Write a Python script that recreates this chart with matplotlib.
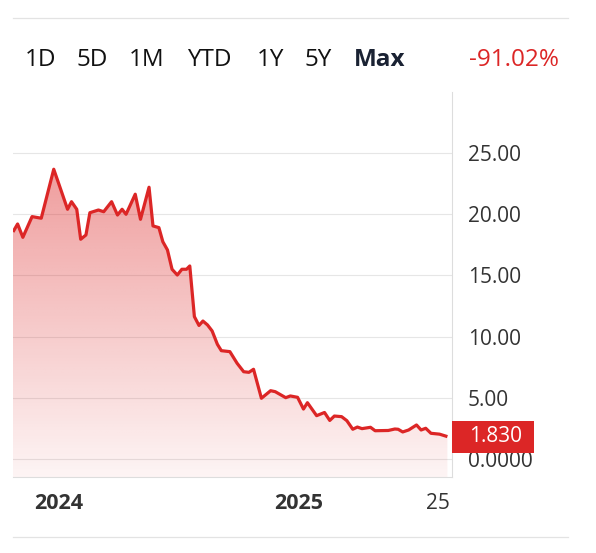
import numpy as np
import pandas as pd
import matplotlib
matplotlib.use("Agg")
import matplotlib.pyplot as plt
import matplotlib.dates as mdates
from matplotlib.patches import Rectangle
from matplotlib.transforms import blended_transform_factory
from matplotlib.lines import Line2D

plt.rcParams['font.family'] = ['Open Sans', 'DejaVu Sans']

# ---- data ----
dates = [
    "2023-10-24", "2023-10-31", "2023-11-08", "2023-11-22", "2023-12-06", "2023-12-25",
    "2024-01-04", "2024-01-15", "2024-01-21", "2024-01-29", "2024-02-04", "2024-02-12",
    "2024-02-18", "2024-03-02", "2024-03-10", "2024-03-22", "2024-03-31", "2024-04-07",
    "2024-04-13", "2024-04-27", "2024-05-05", "2024-05-18", "2024-05-24", "2024-06-02",
    "2024-06-08", "2024-06-15", "2024-06-22", "2024-06-30", "2024-07-07", "2024-07-14",
    "2024-07-19", "2024-07-26", "2024-08-02", "2024-08-08", "2024-08-15", "2024-08-22",
    "2024-08-30", "2024-09-05", "2024-09-18", "2024-09-29", "2024-10-09", "2024-10-17",
    "2024-10-24", "2024-11-05", "2024-11-19", "2024-11-26", "2024-12-12", "2024-12-19",
    "2024-12-30", "2025-01-08", "2025-01-14", "2025-01-28", "2025-02-09", "2025-02-17",
    "2025-02-24", "2025-03-07", "2025-03-15", "2025-03-24", "2025-03-31", "2025-04-07",
    "2025-04-20", "2025-04-27", "2025-05-17", "2025-05-27", "2025-06-01", "2025-06-08",
    "2025-06-17", "2025-06-29", "2025-07-06", "2025-07-13", "2025-07-21", "2025-08-03",
    "2025-08-15",
]
prices = [
    18.55, 19.20, 18.11, 19.80, 19.67, 23.67,
    22.12, 20.40, 21.02, 20.40, 17.95, 18.30,
    20.12, 20.34, 20.20, 21.02, 19.93, 20.40,
    19.99, 21.63, 19.58, 22.20, 19.04, 18.90,
    17.75, 17.08, 15.50, 15.03, 15.50, 15.50,
    15.77, 11.63, 10.91, 11.27, 10.95, 10.46,
    9.37, 8.85, 8.77, 7.82, 7.13, 7.08,
    7.33, 4.96, 5.58, 5.50, 5.01, 5.15,
    5.04, 4.08, 4.60, 3.54, 3.80, 3.15,
    3.51, 3.46, 3.13, 2.43, 2.61, 2.48,
    2.59, 2.31, 2.33, 2.45, 2.43, 2.21,
    2.37, 2.78, 2.37, 2.51, 2.10, 2.03,
    1.83,
]
y_ticks = [0, 5, 10, 15, 20, 25]
y_tick_labels = ["0.0000", "5.00", "10.00", "15.00", "20.00", "25.00"]
x_ticks = ["2024-01-01", "2025-01-01", "2025-08-01"]
x_tick_labels = ["2024", "2025", "25"]
x_tick_bold = [True, True, False]
ranges = ["1D", "5D", "1M", "YTD", "1Y", "5Y", "Max"]
change_text = "-91.02%"
last_label = "1.830"

RED = "#dc2626"

dts = pd.to_datetime(dates)
xnum = mdates.date2num(dts)
W, H = 596, 553
fig = plt.figure(figsize=(W / 100, H / 100), dpi=100)

ax = fig.add_axes([13 / W, 1 - 477 / H, 439 / W, 385 / H])
ymin, ymax = -1.47, 29.98
xmin = xnum[0]
xmax = mdates.date2num(pd.Timestamp("2025-08-22"))
ax.set_xlim(xmin, xmax)
ax.set_ylim(ymin, ymax)

# gradient fill under line
poly = ax.fill_between(xnum, prices, ymin, facecolor="none", edgecolor="none")
top_val = max(prices)
ny = 256
yy = np.linspace(ymax, ymin, ny)
alpha = np.clip(0.05 + 0.40 * (yy - ymin) / (top_val - ymin), 0.05, 0.48)
img = np.zeros((ny, 2, 4))
img[..., 0] = 220 / 255
img[..., 1] = 38 / 255
img[..., 2] = 38 / 255
img[..., 3] = alpha[:, None]
im = ax.imshow(img, extent=[xmin, xmax, ymin, ymax], aspect="auto",
               interpolation="bilinear", zorder=1, origin="upper")
im.set_clip_path(poly.get_paths()[0], transform=ax.transData)

ax.plot(xnum, prices, color=RED, lw=2.3, zorder=3, solid_capstyle="butt")

# grid and spines
ax.set_yticks(y_ticks)
ax.set_yticklabels(y_tick_labels)
ax.yaxis.tick_right()
ax.grid(axis="y", color="#e6e6e6", lw=0.8)
ax.grid(axis="x", visible=False)
ax.set_axisbelow(True)
ax.tick_params(axis="y", length=0, pad=11.5, labelsize=15, labelcolor="#333333")
for s in ["left", "top"]:
    ax.spines[s].set_visible(False)
for s in ["right", "bottom"]:
    ax.spines[s].set_color("#dddddd")
    ax.spines[s].set_linewidth(0.8)

ax.set_xticks(mdates.date2num(pd.to_datetime(x_ticks)))
ax.set_xticklabels(x_tick_labels)
ax.tick_params(axis="x", length=0, pad=11.5, labelsize=15.5, labelcolor="#333333")
for lbl, b in zip(ax.get_xticklabels(), x_tick_bold):
    lbl.set_fontweight("bold" if b else "normal")
    if not b:
        lbl.set_fontsize(15)

# last-value label
tr = blended_transform_factory(ax.transAxes, ax.transData)
last = prices[-1]
bw = 82 / 439
bh = 32 / 385 * (ymax - ymin)
ax.add_patch(Rectangle((1.0, last - bh / 2 - 0.05), bw, bh, transform=tr,
                       facecolor=RED, edgecolor="none", clip_on=False, zorder=6))
ax.text(1.0 + bw / 2 + 0.005, last, last_label, transform=tr, ha="center",
        va="center", color="white", fontsize=15, zorder=7, clip_on=False)

# header
fig.add_artist(Line2D([13 / W, 568 / W], [1 - 18 / H, 1 - 18 / H], color="#e3e3e3", lw=0.9))
fig.add_artist(Line2D([13 / W, 568 / W], [1 - 537 / H, 1 - 537 / H], color="#e3e3e3", lw=0.9))
xs = [25, 76, 129, 187, 257, 305, 354]
for r, x in zip(ranges, xs):
    fig.text(x / W, 1 - 60 / H, r, ha="left", va="center", fontsize=17.5,
             color="#1a2233" if r == "Max" else "#111111",
             fontweight="bold" if r == "Max" else "normal")
fig.text(559 / W, 1 - 60 / H, change_text, ha="right", va="center", fontsize=17.5, color=RED)

fig.savefig("out.png", dpi=100)
